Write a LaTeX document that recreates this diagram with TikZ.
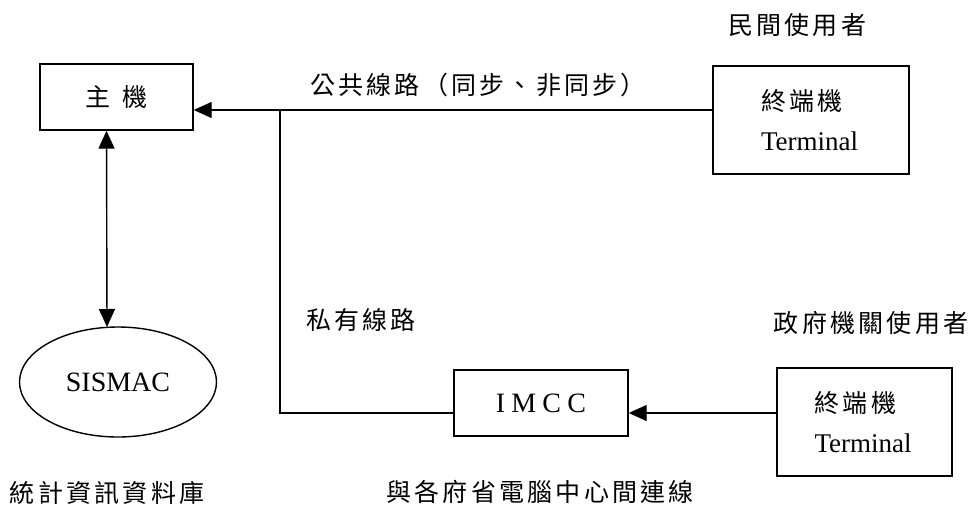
\documentclass[tikz,border=0pt]{standalone}
\usepackage{fontspec}
\setmainfont{Liberation Serif}
\newfontfamily\cjk[LetterSpace=13]{Noto Sans CJK TC}
\usetikzlibrary{arrows.meta,shapes.geometric}
\tikzset{
  box/.style={draw,line width=1.4pt,inner sep=0pt},
  termbox/.style={box,minimum width=196pt,minimum height=108pt,
    align=left,text width=100pt,font=\fontsize{27}{40}\selectfont},
  lbl/.style={inner sep=0pt,font=\fontsize{25}{28}\cjk},
  line/.style={line width=1.4pt},
  tip/.tip={Triangle[length=18pt,width=16pt]},
  arr/.style={line,-tip}
}
\begin{document}
\begin{tikzpicture}[x=1pt,y=-1pt]
      \useasboundingbox (0,0) rectangle (971,506);
      \draw
        (116.5,97) node[box,minimum width=153pt,minimum height=66pt,
          font=\fontsize{25}{28}\cjk] (host){主\hspace{12pt}機}
        (118,382) node[ellipse,draw,line width=1.4pt,minimum width=197pt,
          minimum height=110pt,inner sep=0pt,font=\fontsize{28}{32}\selectfont] (sismac){SISMAC}
        (811,120) node[termbox] (term1){{\fontsize{25}{40}\cjk 終端機}\\Terminal}
        (864.5,422) node[termbox,minimum width=175pt] (term2){{\fontsize{25}{40}\cjk 終端機}\\Terminal}
        (541,403) node[box,minimum width=174pt,minimum height=66pt,
          font=\fontsize{28}{32}\addfontfeature{LetterSpace=22}] (imcc){IMCC};
      % labels
      \node[lbl] (civil) at (797,25) {民間使用者};
      \node[lbl] (public) at (478,85) {公共線路（同步、非同步）};
      \node[lbl] (private) at (361,320) {私有線路};
      \node[lbl] (gov) at (871,323) {政府機關使用者};
      \node[lbl] (db) at (107,493) {統計資訊資料庫};
      \node[lbl] (link) at (540,492) {與各府省電腦中心間連線};
      % connectors
      \coordinate (pubjoin) at (280,110);
      \coordinate (privjoin) at (280,413);
      \coordinate (dbtop) at (107,327);
      \draw[arr] (term1.west |- pubjoin) -- (host.east |- pubjoin);
      \draw[line] (pubjoin) -- (privjoin) -- (imcc.west |- privjoin);
      \draw[arr] (term2.west |- privjoin) -- (imcc.east |- privjoin);
      \draw[line,tip-tip] ([xshift=-10pt]host.south) -- (dbtop);
    \end{tikzpicture}
\end{document}
